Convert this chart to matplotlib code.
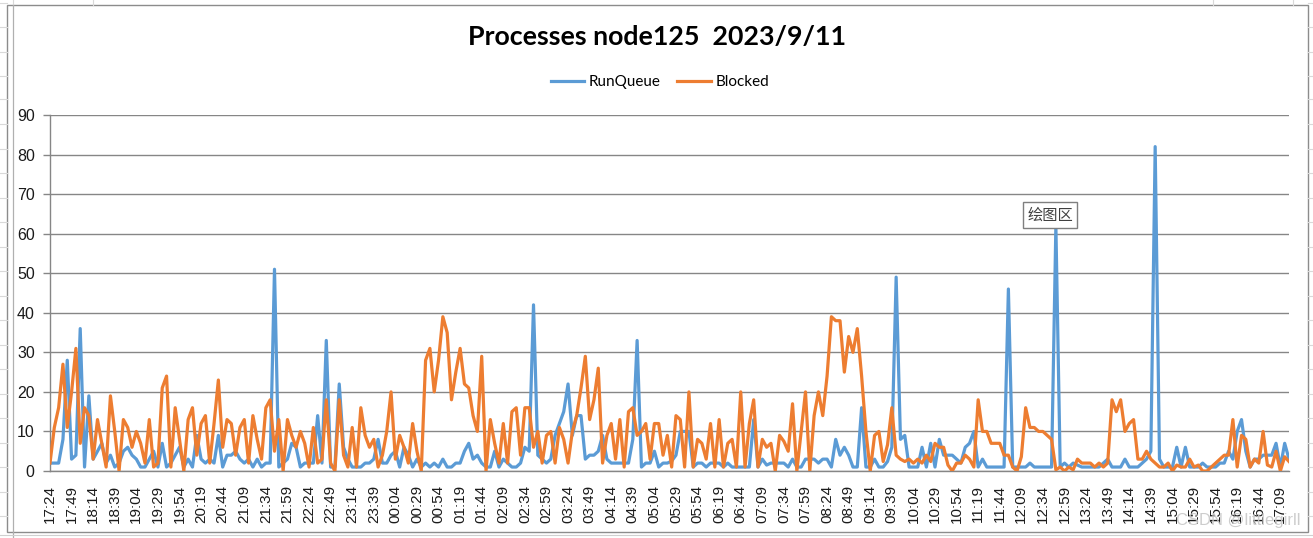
import matplotlib
matplotlib.use("Agg")
import matplotlib.pyplot as plt
from matplotlib.patches import Rectangle
from matplotlib.lines import Line2D

# ---------------- data ----------------
tick_labels = ["17:24", "17:49", "18:14", "18:39", "19:04", "19:29", "19:54", "20:19",
               "20:44", "21:09", "21:34", "21:59", "22:24", "22:49", "23:14", "23:39",
               "00:04", "00:29", "00:54", "01:19", "01:44", "02:09", "02:34", "02:59",
               "03:24", "03:49", "04:14", "04:39", "05:04", "05:29", "05:54", "06:19",
               "06:44", "07:09", "07:34", "07:59", "08:24", "08:49", "09:14", "09:39",
               "10:04", "10:29", "10:54", "11:19", "11:44", "12:09", "12:34", "12:59",
               "13:24", "13:49", "14:14", "14:39", "15:04", "15:29", "15:54", "16:19",
               "16:44", "17:09"]

runqueue = [
    2, 2, 2, 8, 28, 3, 4, 36, 1, 19,
    3, 5, 7, 2, 4, 1, 2, 5, 6, 4,
    3, 1, 1, 3, 5, 1, 7, 1, 2, 4,
    6, 1, 3, 1, 9, 3, 2, 3, 2, 9,
    1, 4, 4, 5, 3, 2, 3, 1, 3, 1,
    2, 2, 51, 1, 2, 3, 7, 6, 1, 2,
    2, 2, 14, 2, 33, 1, 1, 22, 6, 3,
    1, 1, 1, 2, 2, 3, 8, 2, 2, 4,
    5, 1, 6, 4, 1, 3, 1, 2, 1, 2,
    1, 3, 1, 1, 2, 2, 5, 7, 3, 4,
    2, 1, 1, 5, 1, 3, 2, 1, 1, 2,
    6, 5, 42, 4, 3, 2, 3, 9, 12, 15,
    22, 9, 14, 14, 3, 4, 4, 5, 9, 3,
    2, 2, 2, 2, 2, 8, 33, 1, 2, 2,
    5, 1, 2, 2, 2.5, 4, 10, 10, 10, 1,
    2, 2, 1, 2, 2, 2, 1, 2, 1, 1,
    1, 1, 1, 13, 1, 3, 1.5, 2, 2, 2,
    2, 1, 3, 1, 1, 3, 3, 3, 2, 3,
    3, 1, 8, 4, 6, 4, 1, 1, 16, 1,
    1, 3, 1, 1, 2.4, 6, 49, 8, 9, 1,
    1, 1, 6, 1, 7, 1, 8, 4, 4, 4,
    3, 2, 6, 7, 10, 1, 3, 1, 1, 1,
    1, 1, 46, 1, 1, 1, 1, 2, 1, 1,
    1, 1, 1, 62, 1, 2, 1, 2, 1.5, 1,
    1, 1, 1, 1, 2, 3, 1, 1, 1, 3,
    1, 1, 1, 2, 3, 5, 82, 3, 1, 1,
    1, 6, 1, 6, 1, 1, 1, 2, 1, 1,
    1, 2, 2, 5, 3, 10, 13, 5, 1, 3,
    3, 4, 4, 4, 7, 1, 7, 3,
]

blocked = [
    2, 11, 16, 27, 11, 20, 31, 7, 16, 14,
    3, 13, 7, 1, 19, 10, 0, 13, 11, 6,
    10, 7, 2, 13, 1, 2, 21, 24, 1, 16,
    8, 0, 13, 16, 4, 12, 14, 2, 12, 23,
    6, 13, 12, 4, 11, 13, 2, 14, 8, 3,
    16, 18, 5, 13, 0, 13, 9, 6, 10, 7,
    1, 11, 2, 3, 18, 2, 0, 18, 4, 1,
    11, 1, 16, 9, 6, 8, 1, 4, 10, 20,
    3, 9, 6, 2, 12, 5, 0, 28, 31, 20,
    28, 39, 35, 18, 25, 31, 22, 21, 14, 10,
    29, 0, 13, 7, 2, 12, 2, 15, 16, 4,
    16, 16, 6, 10, 2, 9, 10, 2, 11, 8,
    2, 10, 14, 21, 29, 13, 18, 26, 2, 9,
    12, 3, 13, 1, 15, 16, 9, 10, 12, 3,
    12, 12, 4, 9, 1, 14, 13, 1, 20, 1,
    8, 7, 3, 12, 1, 13, 1, 7, 8, 1,
    20, 1, 12, 18, 1, 8, 6, 7, 0, 9,
    7.5, 5, 17, 0, 10, 20, 0, 14, 20, 14,
    24, 39, 38, 38, 25, 34, 30, 36, 24, 10,
    0, 9, 10, 2.4, 6.6, 16, 4, 3, 2.4, 3,
    2, 3, 2, 4, 2.4, 7, 6, 6, 1.5, 0,
    2, 2, 4, 3, 1, 18, 10, 10, 7, 7,
    7, 4, 4, 1, 0, 3.6, 16, 11, 11, 10,
    10, 9, 8, 0.3, 1, 0, 1, 0.3, 3, 2,
    2, 2, 1, 2, 1, 2, 18, 15, 18, 10,
    12, 13, 3, 3, 5, 3, 2, 1, 1, 2,
    0, 1.5, 1, 1, 3, 1, 1.5, 0, 0, 1,
    2, 3, 4, 4, 13, 1, 9, 8, 1, 3,
    2, 10, 1.5, 1, 5, 0, 3.6, 2.4,
]

title_text = "Processes node125  2023/9/11"
series_names = ["RunQueue", "Blocked"]
colors = ["#5B9BD5", "#ED7D31"]

# ---------------- figure ----------------
W, H = 1313, 538
fig = plt.figure(figsize=(W / 100, H / 100), dpi=100)
fig.patch.set_facecolor("white")

def fx(px):
    return px / W

def fy(py):
    return 1 - py / H

# spreadsheet background lines outside the chart
for yy in [3, 27, 52, 76, 99, 124, 149, 173, 198, 222, 247, 271, 296, 320, 345, 369, 394, 418, 443, 467, 492, 516]:
    fig.add_artist(Line2D([0, fx(7)], [fy(yy), fy(yy)], color="#d9d9d9", lw=0.8))
    fig.add_artist(Line2D([fx(1308), 1], [fy(yy), fy(yy)], color="#d9d9d9", lw=0.8))
for xx in [13, 93, 1213, 1293]:
    fig.add_artist(Line2D([fx(xx), fx(xx)], [fy(0), fy(5)], color="#d9d9d9", lw=0.8))
fig.add_artist(Line2D([fx(13), fx(13)], [fy(5), fy(538)], color="#b0b0b0", lw=0.9))
fig.add_artist(Line2D([0, 1], [fy(535), fy(535)], color="#d0d0d0", lw=0.8))

# chart border
fig.add_artist(Rectangle((fx(7), fy(532)), fx(1308) - fx(7), fy(5) - fy(532),
                         fill=False, edgecolor="#8c8c8c", lw=1.0))

ax = fig.add_axes([fx(50), fy(471), fx(1289) - fx(50), fy(115) - fy(471)])
x = list(range(len(runqueue)))
l1, = ax.plot(x, runqueue, color=colors[0], lw=2.3, solid_joinstyle="round",
              label=series_names[0], zorder=3)
l2, = ax.plot(x, blocked, color=colors[1], lw=2.3, solid_joinstyle="round",
              label=series_names[1], zorder=4)

ax.set_xlim(0, len(runqueue) - 1)
ax.set_ylim(0, 90)
ax.set_yticks(range(0, 91, 10))
ax.set_yticklabels([str(v) for v in range(0, 91, 10)], fontsize=11.5,
                   family="Liberation Sans", color="#1a1a1a")
ax.set_xticks([5 * i for i in range(len(tick_labels))])
ax.set_xticklabels(tick_labels, rotation=90, fontsize=11, family="Liberation Sans",
                   color="#1a1a1a")
ax.tick_params(axis="x", length=0, pad=10)
ax.tick_params(axis="y", length=5, width=1, color="#868686", pad=6)

ax.grid(axis="y", color="#868686", lw=1.0)
ax.set_axisbelow(True)
for s in ["top", "right"]:
    ax.spines[s].set_visible(False)
for s in ["left", "bottom"]:
    ax.spines[s].set_color("#868686")
    ax.spines[s].set_linewidth(1.0)
ax.set_facecolor("none")

# title
fig.text(fx(657), fy(37), title_text, ha="center", va="center", fontsize=19.3,
         fontweight="bold", family="Lato", color="black")

# legend
fig.legend(handles=[l1, l2], loc="center", bbox_to_anchor=(fx(660), fy(82)),
           ncol=2, frameon=False, prop={"family": "Lato", "size": 11},
           handlelength=2.2, handletextpad=0.3, columnspacing=1.1)

# tooltip box
fig.text(fx(1050), fy(215), "绘图区", ha="center", va="center", fontsize=11,
         family=["Noto Sans CJK SC", "DejaVu Sans"], color="#404040",
         bbox=dict(boxstyle="square,pad=0.3", facecolor="white", edgecolor="#7f7f7f",
                   lw=1.0), zorder=10)

# watermark (overlaps tick labels in the reference as well)
fig.text(fx(1238), fy(520), "CSDN @littlegirll", ha="center", va="center",
         fontsize=12, family="Liberation Sans", color="#c8c8c8", alpha=0.9)

fig.savefig("out.png", dpi=100)
